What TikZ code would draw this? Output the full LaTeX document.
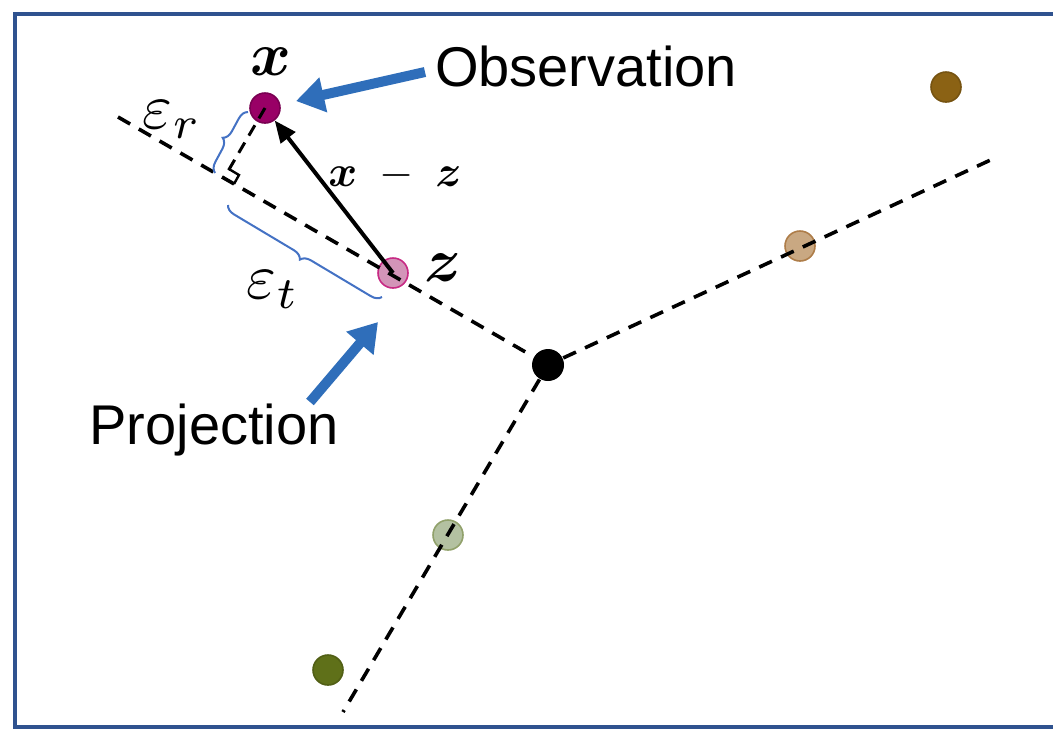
\documentclass[tikz,border=0pt]{standalone}
\usepackage{amsmath}
\usepackage{fontspec}
\setmainfont{Liberation Sans}
\usetikzlibrary{arrows.meta,decorations.pathreplacing,calc}
\definecolor{framecol}{HTML}{2F528F}
\definecolor{arrowcol}{HTML}{2F6EBA}
\definecolor{bracecol}{HTML}{4472C4}
\definecolor{obscol}{HTML}{990066}
\definecolor{projcol}{HTML}{D394B8}
\definecolor{tancol}{HTML}{C9A882}
\definecolor{browncol}{HTML}{8B6214}
\definecolor{sagecol}{HTML}{B3C1A1}
\definecolor{olivecol}{HTML}{5F7019}

\begin{document}
\begin{tikzpicture}[x=0.5pt,y=-0.5pt,
  dot/.style={circle,minimum size=15pt,inner sep=0pt,line width=0.8pt},
  axis/.style={dash pattern=on 7pt off 5pt,line width=1.8pt},
  pointer/.style={line width=5pt,draw=arrowcol,-{Triangle[length=14pt,width=17pt]}},
  bracket/.style={decorate,decoration={brace,amplitude=5pt},draw=bracecol,line width=1pt}]
\useasboundingbox (0,0) rectangle (1053,730);
\draw[framecol,line width=1.8pt] (15,14) rectangle (1070,727);

% points
\node[dot,fill=obscol,draw=obscol!80!black] (x) at (265,108) {};
\node[dot,fill=projcol,draw=magenta!80!black] (z) at (393,273) {};
\node[dot,fill=tancol,draw=tancol!70!orange!80!black] (p1) at (800,246) {};
\node[dot,fill=browncol,draw=browncol!85!black] (p2) at (946,87) {};
\node[dot,fill=sagecol,draw=sagecol!60!olivecol] (p3) at (448,535) {};
\node[dot,fill=olivecol,draw=olivecol!85!black] (p4) at (328,670) {};

% axes
\coordinate (ul) at (118,117);
\coordinate (ur) at (997,157);
\coordinate (lo) at (343,712);
\coordinate (foot) at (224,178);
\node[dot,fill=black,minimum size=16pt] (c) at (548,365) {};
\draw[axis] (ul) -- (c);
\draw[axis] (c) -- (ur);
\draw[axis] (c) -- (lo);
\draw[dash pattern=on 6pt off 4pt,line width=1.5pt] (x.center) -- (foot);
\draw[line width=1.2pt] ($(foot)+(10,6)$) -- ++(5,-9) -- ++(-10,-6);

% residual
\draw[line width=2pt,-{Triangle[length=11pt,width=9pt]}] (z.center) -- (x);
\node[scale=2.2] (diff) at (395,175) {$\boldsymbol{x}\;-\;\boldsymbol{z}$};
\node[scale=3.1] (xlab) at (271,62) {$\boldsymbol{x}$};
\node[scale=3.1] (zlab) at (443,268) {$\boldsymbol{z}$};

% errors
\coordinate (r1) at (215,173);
\coordinate (r2) at (248,112);
\coordinate (t1) at (228,205);
\coordinate (t2) at (382,297);
\draw[bracket] (r1) -- (r2);
\draw[bracket] (t2) -- (t1);
\node[scale=3.2] (er) at (172,120) {$\varepsilon_r$};
\node[scale=3.2] (et) at (273,290) {$\varepsilon_t$};

% labels
\node (obs) at (586,66) {\fontsize{28}{34}\selectfont Observation};
\node (proj) at (214,430) {\fontsize{28}{34}\selectfont Projection};
\coordinate (obsend) at (425,72);
\coordinate (projend) at (310,402);
\coordinate (projtip) at (378,322);
\draw[pointer,shorten >=8pt] (obsend) -- (x);
\draw[pointer] (projend) -- (projtip);
\end{tikzpicture}
\end{document}
